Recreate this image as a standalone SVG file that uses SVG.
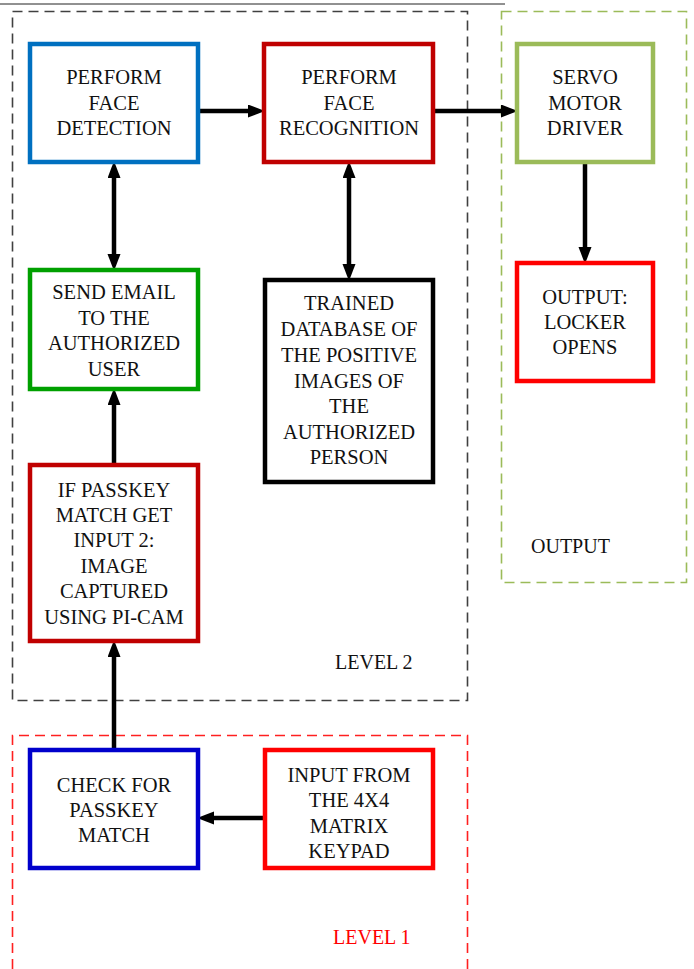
<svg xmlns="http://www.w3.org/2000/svg" width="694" height="969" viewBox="0 0 694 969">
<style>
  .box{fill:#fff;stroke-width:4.5;}
  .t{font-family:"Liberation Serif","Times New Roman",serif;font-size:20.5px;fill:#111;text-anchor:middle;}
  .lbl{font-family:"Liberation Serif","Times New Roman",serif;font-size:20px;fill:#111;}
  .conn{stroke:#000;stroke-width:4.5;fill:none;}
  .grp{fill:none;stroke-width:1.6;stroke-dasharray:10 6;}
</style>
<defs>
  <marker id="ah" markerUnits="userSpaceOnUse" markerWidth="18" markerHeight="14" refX="6" refY="6.5" orient="auto-start-reverse">
    <path d="M0,0 L17,6.5 L0,13 z" fill="#000"/>
  </marker>
</defs>
<rect width="694" height="969" fill="#fff"/>
<line x1="0" y1="4" x2="505" y2="4" stroke="#222" stroke-width="1"/>

<g id="groups">
  <rect class="grp" x="12.5" y="11.5" width="455" height="689" stroke="#404040"/>
  <rect class="grp" x="501.5" y="11.5" width="185" height="571" stroke="#9BBB59"/>
  <path class="grp" d="M12.5,969 V735.5 H467.5 V969" stroke="#FF2020"/>
  <text class="lbl" x="335" y="669">LEVEL 2</text>
  <text class="lbl" x="531" y="553">OUTPUT</text>
  <text class="lbl" x="333" y="944" fill="#FF0000" style="fill:#FF0000">LEVEL 1</text>
</g>

<g id="connectors">
  <line class="conn" x1="198" y1="111" x2="254" y2="111" marker-end="url(#ah)"/>
  <line class="conn" x1="433" y1="111" x2="507" y2="111" marker-end="url(#ah)"/>
  <line class="conn" x1="585" y1="162" x2="585" y2="253" marker-end="url(#ah)"/>
  <line class="conn" x1="114" y1="172" x2="114" y2="260" marker-start="url(#ah)" marker-end="url(#ah)"/>
  <line class="conn" x1="349" y1="172" x2="349" y2="270" marker-start="url(#ah)" marker-end="url(#ah)"/>
  <line class="conn" x1="114" y1="465" x2="114" y2="399" marker-end="url(#ah)"/>
  <line class="conn" x1="114" y1="750" x2="114" y2="651" marker-end="url(#ah)"/>
  <line class="conn" x1="265" y1="818" x2="208" y2="818" marker-end="url(#ah)"/>
</g>

<g id="face-detection">
  <rect class="box" x="30" y="44" width="168" height="118" stroke="#0070C0"/>
  <text class="t" x="114" y="84">PERFORM</text>
  <text class="t" x="114" y="110">FACE</text>
  <text class="t" x="114" y="135">DETECTION</text>
</g>
<g id="face-recognition">
  <rect class="box" x="264" y="44" width="169" height="118" stroke="#C00000"/>
  <text class="t" x="349" y="84">PERFORM</text>
  <text class="t" x="349" y="110">FACE</text>
  <text class="t" x="349" y="135">RECOGNITION</text>
</g>
<g id="servo">
  <rect class="box" x="517" y="44" width="136" height="118" stroke="#9BBB59"/>
  <text class="t" x="585" y="84">SERVO</text>
  <text class="t" x="585" y="110">MOTOR</text>
  <text class="t" x="585" y="135">DRIVER</text>
</g>
<g id="locker">
  <rect class="box" x="517" y="263" width="136" height="118" stroke="#FF0000"/>
  <text class="t" x="585" y="304">OUTPUT:</text>
  <text class="t" x="585" y="329">LOCKER</text>
  <text class="t" x="585" y="354">OPENS</text>
</g>
<g id="send-email">
  <rect class="box" x="30" y="270" width="168" height="119" stroke="#00A000"/>
  <text class="t" x="114" y="299">SEND EMAIL</text>
  <text class="t" x="114" y="324.5">TO THE</text>
  <text class="t" x="114" y="350">AUTHORIZED</text>
  <text class="t" x="114" y="375.5">USER</text>
</g>
<g id="database">
  <rect class="box" x="265" y="280" width="168" height="202" stroke="#000"/>
  <text class="t" x="349" y="310">TRAINED</text>
  <text class="t" x="349" y="336">DATABASE OF</text>
  <text class="t" x="349" y="362">THE POSITIVE</text>
  <text class="t" x="349" y="388">IMAGES OF</text>
  <text class="t" x="349" y="413">THE</text>
  <text class="t" x="349" y="439">AUTHORIZED</text>
  <text class="t" x="349" y="464">PERSON</text>
</g>
<g id="if-passkey">
  <rect class="box" x="30" y="465" width="168" height="176" stroke="#C00000"/>
  <text class="t" x="114" y="497">IF PASSKEY</text>
  <text class="t" x="114" y="522">MATCH GET</text>
  <text class="t" x="114" y="547">INPUT 2:</text>
  <text class="t" x="114" y="573">IMAGE</text>
  <text class="t" x="114" y="598">CAPTURED</text>
  <text class="t" x="114" y="624">USING PI-CAM</text>
</g>
<g id="check-passkey">
  <rect class="box" x="30" y="750" width="168" height="118" stroke="#0000CC"/>
  <text class="t" x="114" y="792">CHECK FOR</text>
  <text class="t" x="114" y="817">PASSKEY</text>
  <text class="t" x="114" y="842">MATCH</text>
</g>
<g id="keypad">
  <rect class="box" x="265" y="750" width="168" height="118" stroke="#FF0000"/>
  <text class="t" x="349" y="782">INPUT FROM</text>
  <text class="t" x="349" y="807">THE 4X4</text>
  <text class="t" x="349" y="833">MATRIX</text>
  <text class="t" x="349" y="858">KEYPAD</text>
</g>
</svg>
